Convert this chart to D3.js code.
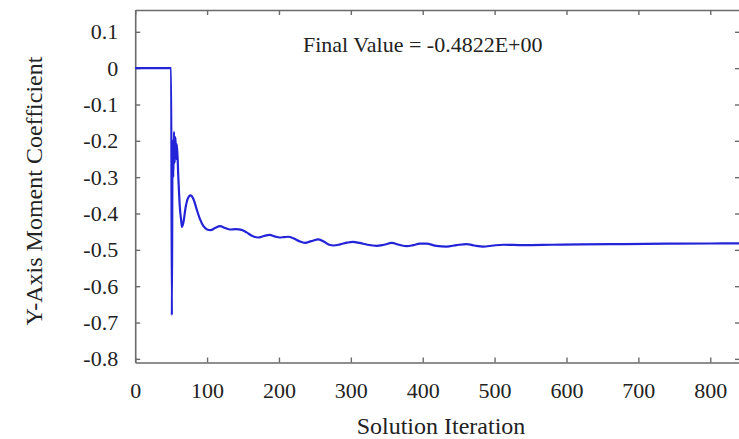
<!DOCTYPE html>
<html>
<head>
<meta charset="utf-8">
<script src="https://cdn.jsdelivr.net/npm/d3@7"></script>
<style>
  html, body { margin: 0; padding: 0; background: #ffffff; }
  svg { display: block; }
  text { font-family: "Liberation Serif", "Times New Roman", serif; fill: #222; }
</style>
</head>
<body>
<svg id="chart" width="739" height="439"></svg>
<script>
// ---- Data ----
const iterations = [0, 50, 51, 52, 53, 54, 55, 56, 57, 58, 60, 62, 64, 65, 67, 70, 73, 77, 81, 85, 90, 95,
  100, 105, 111, 118, 125, 132, 140, 148, 155, 163, 171, 179, 187, 194, 201, 207, 213, 220, 228, 236,
  245, 255, 263, 270, 276, 285, 295, 303, 312, 323, 336, 346, 357, 367, 378, 387, 396, 405, 419, 433,
  447, 461, 472, 484, 498, 512, 540, 580, 620, 680, 740, 800, 840];
const momentCoef = [0, 0, -0.68, -0.20, -0.30, -0.175, -0.26, -0.19, -0.25, -0.21, -0.30, -0.38, -0.42,
  -0.437, -0.425, -0.385, -0.36, -0.35, -0.36, -0.385, -0.415, -0.435,
  -0.444, -0.446, -0.440, -0.435, -0.440, -0.444, -0.443, -0.445, -0.452, -0.462, -0.466, -0.462,
  -0.459, -0.463, -0.466, -0.465, -0.464, -0.468, -0.476, -0.481,
  -0.476, -0.471, -0.478, -0.486, -0.488, -0.485, -0.480, -0.478, -0.481, -0.486, -0.489, -0.486,
  -0.481, -0.486, -0.490, -0.487, -0.483, -0.483, -0.489, -0.491,
  -0.487, -0.484, -0.488, -0.491, -0.488, -0.486, -0.487, -0.486, -0.485, -0.484, -0.483, -0.4825, -0.4822];
const xTicks = [0, 100, 200, 300, 400, 500, 600, 700, 800];
const yTicks = [0.1, 0, -0.1, -0.2, -0.3, -0.4, -0.5, -0.6, -0.7, -0.8];
const yTickLabels = ["0.1", "0", "-0.1", "-0.2", "-0.3", "-0.4", "-0.5", "-0.6", "-0.7", "-0.8"];
const titleText = "Final Value = -0.4822E+00";
const xLabel = "Solution Iteration";
const yLabel = "Y-Axis Moment Coefficient";

// ---- Layout ----
const svg = d3.select("#chart");
const plotLeft = 135.2, plotRight = 740, plotTop = 10, plotBottom = 362.5;
const frameColor = "#6a6a6a";

const x = d3.scaleLinear().domain([0, 840]).range([plotLeft, 739]);
const y = d3.scaleLinear().domain([-0.81, 0.16]).range([plotBottom, plotTop]);

svg.append("rect").attr("width", 739).attr("height", 439).attr("fill", "#ffffff");

function styleAxis(g) {
  g.selectAll("path").attr("stroke", frameColor).attr("stroke-width", 1.6);
  g.selectAll("line").attr("stroke", frameColor).attr("stroke-width", 1.4);
  g.selectAll("text").attr("font-family", "Liberation Serif, Times New Roman, serif")
    .attr("font-size", 22).attr("fill", "#222");
}

// bottom axis
svg.append("g").attr("transform", `translate(0,${plotBottom})`)
  .call(d3.axisBottom(x).tickValues(xTicks).tickFormat(d => String(d))
    .tickSizeInner(-5).tickSizeOuter(0).tickPadding(20))
  .call(styleAxis);

// top axis (mirror ticks)
svg.append("g").attr("transform", `translate(0,${plotTop})`)
  .call(d3.axisTop(x).tickValues(xTicks).tickFormat("")
    .tickSizeInner(-5).tickSizeOuter(0))
  .call(styleAxis);

// left axis
svg.append("g").attr("transform", `translate(${plotLeft},0)`)
  .call(d3.axisLeft(y).tickValues(yTicks).tickFormat((d, i) => yTickLabels[i])
    .tickSizeInner(-5).tickSizeOuter(0).tickPadding(17))
  .call(styleAxis);

// right axis (mirror ticks)
svg.append("g").attr("transform", `translate(${plotRight},0)`)
  .call(d3.axisRight(y).tickValues(yTicks).tickFormat("")
    .tickSizeInner(-5).tickSizeOuter(0))
  .call(styleAxis);

// ---- Line ----
const line = d3.line()
  .x((d, i) => x(iterations[i]))
  .y(d => y(d))
  .curve(d3.curveMonotoneX);

svg.append("path")
  .datum(momentCoef)
  .attr("d", line)
  .attr("fill", "none")
  .attr("stroke", "#2323d8")
  .attr("stroke-width", 2.2)
  .attr("stroke-linejoin", "round");

// ---- Texts ----
svg.append("text")
  .attr("x", 303).attr("y", 52)
  .attr("font-size", 22)
  .text(titleText);

svg.append("text")
  .attr("x", 441).attr("y", 434)
  .attr("text-anchor", "middle")
  .attr("font-size", 24)
  .text(xLabel);

svg.append("text")
  .attr("transform", "translate(42,191) rotate(-90)")
  .attr("text-anchor", "middle")
  .attr("font-size", 24)
  .text(yLabel);
</script>
</body>
</html>
